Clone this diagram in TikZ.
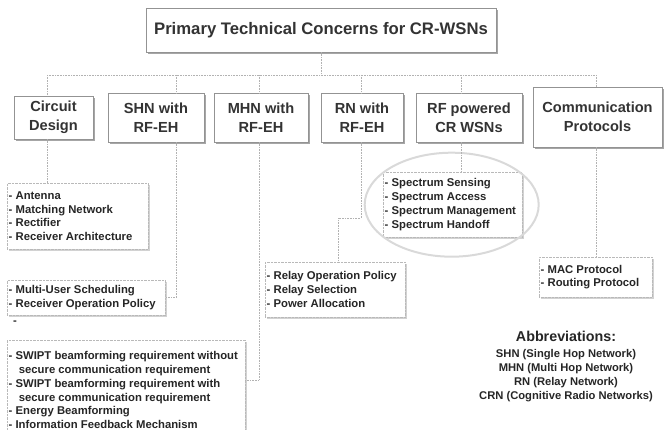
\documentclass[tikz,border=0pt]{standalone}
\usepackage{fontspec}
\setmainfont{Liberation Sans}
\usetikzlibrary{shadows}

\tikzset{
  head/.style={draw=gray!85, fill=white, text=black!80,
    font=\bfseries\fontsize{16.7}{20}\selectfont,
    drop shadow={shadow xshift=2pt, shadow yshift=-2pt, fill=gray!70, opacity=1}},
  topic/.style={draw=gray!85, fill=white, text=black!80, align=center,
    font=\bfseries\fontsize{14.6}{19}\selectfont,
    drop shadow={shadow xshift=2pt, shadow yshift=-2pt, fill=gray!70, opacity=1}},
  items/.style={draw=gray!55, densely dotted, fill=white, anchor=north west,
    align=flush left, inner xsep=1.5pt, inner ysep=0pt, text=black!85,
    font=\bfseries\fontsize{11.3}{13.8}\selectfont,
    drop shadow={shadow xshift=1.5pt, shadow yshift=-1.5pt, fill=gray!35, opacity=1}},
  link/.style={draw=gray!60, densely dotted, line width=0.6pt},
}

\begin{document}
\begin{tikzpicture}[x=1pt, y=-1pt]
  \useasboundingbox (0,0) rectangle (665,430);

  % main concern
  \node[head, minimum width=350, minimum height=44] (title) at (321,30)
    {Primary Technical Concerns for CR-WSNs};

  % second level
  \node[topic, minimum width=79, minimum height=43] (cd) at (53.5,117.5) {Circuit\\Design};
  \node[topic, minimum width=96, minimum height=49] (shn) at (156,117.5) {SHN with\\RF-EH};
  \node[topic, minimum width=94, minimum height=49] (mhn) at (261,117.5) {MHN with\\RF-EH};
  \node[topic, minimum width=82, minimum height=49] (rn) at (362,117.5) {RN with\\RF-EH};
  \node[topic, minimum width=106, minimum height=49] (rf) at (469,117.5) {RF powered\\CR WSNs};
  \node[topic, minimum width=129, minimum height=60] (comm) at (597.5,117) {Communication\\Protocols};

  % item lists
  \node[items, text width=138, minimum height=66] (cdsub) at (7,183)
    {- Antenna\\- Matching Network\\- Rectifier\\- Receiver Architecture};
  \node[items, text width=155, minimum height=35] (shnsub) at (7,280)
    {- Multi-User Scheduling\\- Receiver Operation Policy};
  \node[text=black!85, font=\bfseries\fontsize{11.3}{13.8}\selectfont] (dash) at (15,323) {-};
  \node[items, text width=235, minimum height=100] (mhnsub) at (7,340)
    {- SWIPT beamforming requirement without\\
     \hspace*{0.9em}secure communication requirement\\
     - SWIPT beamforming requirement with\\
     \hspace*{0.9em}secure communication requirement\\
     - Energy Beamforming\\- Information Feedback Mechanism};
  \node[items, text width=137, minimum height=55] (rnsub) at (265,262)
    {- Relay Operation Policy\\- Relay Selection\\- Power Allocation};
  \node[items, text width=136, minimum height=65] (rfsub) at (383,172)
    {- Spectrum Sensing\\- Spectrum Access\\- Spectrum Management\\- Spectrum Handoff};
  \node[items, text width=110, minimum height=40] (macsub) at (539,257)
    {- MAC Protocol\\- Routing Protocol};

  \draw[gray!30, line width=2pt] ([xshift=-1pt]rfsub.center) ellipse [x radius=87pt, y radius=52pt];

  % connectors
  \foreach \nm/\xx in {cdx/47, shnx/176, mhnx/259, rnx/361, rfx/461, commx/596}
    \coordinate (\nm) at (\xx,75);
  \coordinate (rnstep) at (338,218);

  \draw[link] (title.south) -- (title.south |- cdx);
  \draw[link] (cdx) -- (commx);
  \foreach \nm/\bx in {cdx/cd, shnx/shn, mhnx/mhn, rnx/rn, rfx/rf, commx/comm}
    \draw[link] (\nm) -- (\nm |- \bx.north);

  \draw[link] (cdx |- cd.south) -- (cdx |- cdsub.north);
  \draw[link] (shnx |- shn.south) |- (shnsub.east);
  \draw[link] (mhnx |- mhn.south) |- ([yshift=10pt]mhnsub.east);
  \draw[link] (rnx |- rn.south) |- (rnstep) -- (rnstep |- rnsub.north);
  \draw[link] (rfx |- rf.south) -- (rfx |- rfsub.north);
  \draw[link] (commx |- comm.south) -- (commx |- macsub.north);

  % abbreviations
  \node[align=center, text=black!85, font=\bfseries\fontsize{11.2}{14}\selectfont] (abbr) at (566,367)
    {{\fontsize{14.3}{16}\selectfont Abbreviations:}\\[2pt]
     SHN (Single Hop Network)\\MHN (Multi Hop Network)\\RN (Relay Network)\\CRN (Cognitive Radio Networks)};
\end{tikzpicture}
\end{document}
